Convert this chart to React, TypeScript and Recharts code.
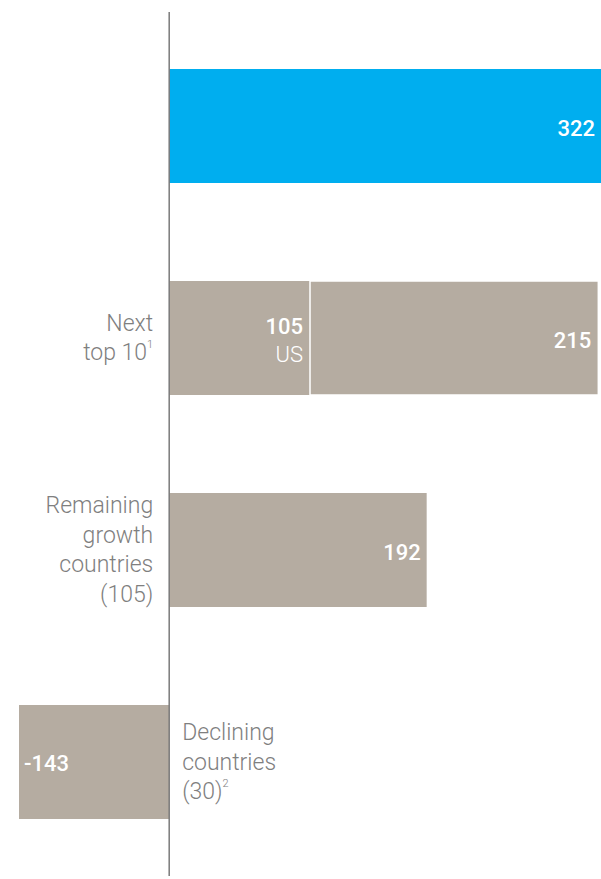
import { BarChart, Bar, XAxis, YAxis, Cell, LabelList, ReferenceLine } from 'recharts';

// growth by country group; the top row's label is cut off in the source
const categories = ['Top country', 'Next top 10', 'Remaining growth countries', 'Declining countries'];
const categoryLines: { text: string; sup?: string }[][] = [
  [],
  [{ text: 'Next' }, { text: 'top 10', sup: '1' }],
  [{ text: 'Remaining' }, { text: 'growth' }, { text: 'countries' }, { text: '(105)' }],
  [{ text: 'Declining' }, { text: 'countries' }, { text: '(30)', sup: '2' }],
];
const mainValues = [322, 105, 192, -143];
const mainNotes = ['', 'US', '', ''];
const restValues = [0, 215, 0, 0];

const W = 601;
const H = 879;
const MARGIN = { top: 12, right: 0, bottom: 3, left: 19 };
const X_DOMAIN: [number, number] = [-112, 322];

const BLUE = '#00aeef';
const TAUPE = '#b5aca1';
const LABEL_GRAY = '#7f7f7f';
const FONT = "'Helvetica Neue', Roboto, 'Liberation Sans', Arial, sans-serif";
const CAT_SIZE = 23;
const VAL_SIZE = 22;

const data = categories.map((name, i) => ({
  name,
  main: mainValues[i],
  rest: restValues[i],
}));

function rectOf(p: any) {
  const vb = p.viewBox && typeof p.viewBox.x === 'number' ? p.viewBox : p;
  const x = Number(vb.x);
  const y = Number(vb.y);
  const w = Number(vb.width);
  const h = Number(vb.height);
  return {
    left: Math.min(x, x + w),
    right: Math.max(x, x + w),
    cy: Math.min(y, y + h) + Math.abs(h) / 2,
  };
}

function renderMainLabels(p: any) {
  const i = p.index as number;
  const v = mainValues[i];
  const { left, right, cy } = rectOf(p);
  const zeroX = v >= 0 ? left : right;
  const lines = categoryLines[i];
  const lh = 29.5;

  const catX = v >= 0 ? zeroX - 16 : zeroX + 13;
  const anchor = v >= 0 ? 'end' : 'start';

  let valueNode;
  if (v >= 0) {
    const note = mainNotes[i];
    valueNode = note ? (
      <g>
        <text x={right - 7} y={cy - 12} textAnchor="end" dominantBaseline="central"
          fill="#fff" fontSize={VAL_SIZE} fontWeight={500} fontFamily={FONT}>{v}</text>
        <text x={right - 7} y={cy + 16} textAnchor="end" dominantBaseline="central"
          fill="#fff" fontSize={VAL_SIZE} fontWeight={300} fontFamily={FONT}>{note}</text>
      </g>
    ) : (
      <text x={right - 6} y={cy + 2} textAnchor="end" dominantBaseline="central"
        fill="#fff" fontSize={VAL_SIZE} fontWeight={500} fontFamily={FONT}>{v}</text>
    );
  } else {
    const visibleLeft = Math.max(left, MARGIN.left);
    valueNode = (
      <text x={visibleLeft + 5} y={cy + 1} textAnchor="start" dominantBaseline="central"
        fill="#fff" fontSize={VAL_SIZE} fontWeight={500} fontFamily={FONT}>{v}</text>
    );
  }

  return (
    <g key={`main-${i}`}>
      {valueNode}
      {lines.map((ln, k) => (
        <text key={k} x={catX} y={cy + (k - (lines.length - 1) / 2) * lh}
          textAnchor={anchor} dominantBaseline="central"
          fill={LABEL_GRAY} fontSize={CAT_SIZE} fontWeight={300} fontFamily={FONT}>
          {ln.text}
          {ln.sup ? <tspan fontSize={11} dy={-9}>{ln.sup}</tspan> : null}
        </text>
      ))}
    </g>
  );
}

function renderRestLabels(p: any) {
  const v = Number(p.value);
  if (!v) return null;
  const { right, cy } = rectOf(p);
  return (
    <text key={`rest-${p.index}`} x={right - 7} y={cy + 2} textAnchor="end" dominantBaseline="central"
      fill="#fff" fontSize={VAL_SIZE} fontWeight={500} fontFamily={FONT}>{v}</text>
  );
}

export default function App() {
  return (
    <div style={{ position: 'absolute', left: 0, top: 0, width: W, height: H, background: '#fff' }}>
      <BarChart width={W} height={H} data={data} layout="vertical" margin={MARGIN}
        stackOffset="sign" barSize={114}>
        <XAxis type="number" domain={X_DOMAIN} allowDataOverflow hide />
        <YAxis type="category" dataKey="name" hide padding={{ top: 8, bottom: 8 }} />
        <Bar dataKey="main" stackId="a" isAnimationActive={false}>
          {data.map((d, i) => (
            <Cell key={d.name} fill={i === 0 ? BLUE : TAUPE} />
          ))}
          <LabelList content={renderMainLabels} />
        </Bar>
        <Bar dataKey="rest" stackId="a" isAnimationActive={false}>
          {data.map((d) => (
            <Cell key={d.name} fill={TAUPE} stroke="#fff" strokeWidth={1.5} />
          ))}
          <LabelList dataKey="rest" content={renderRestLabels} />
        </Bar>
        <ReferenceLine x={0} stroke="#7a7a7a" strokeWidth={1.5} />
      </BarChart>
    </div>
  );
}
